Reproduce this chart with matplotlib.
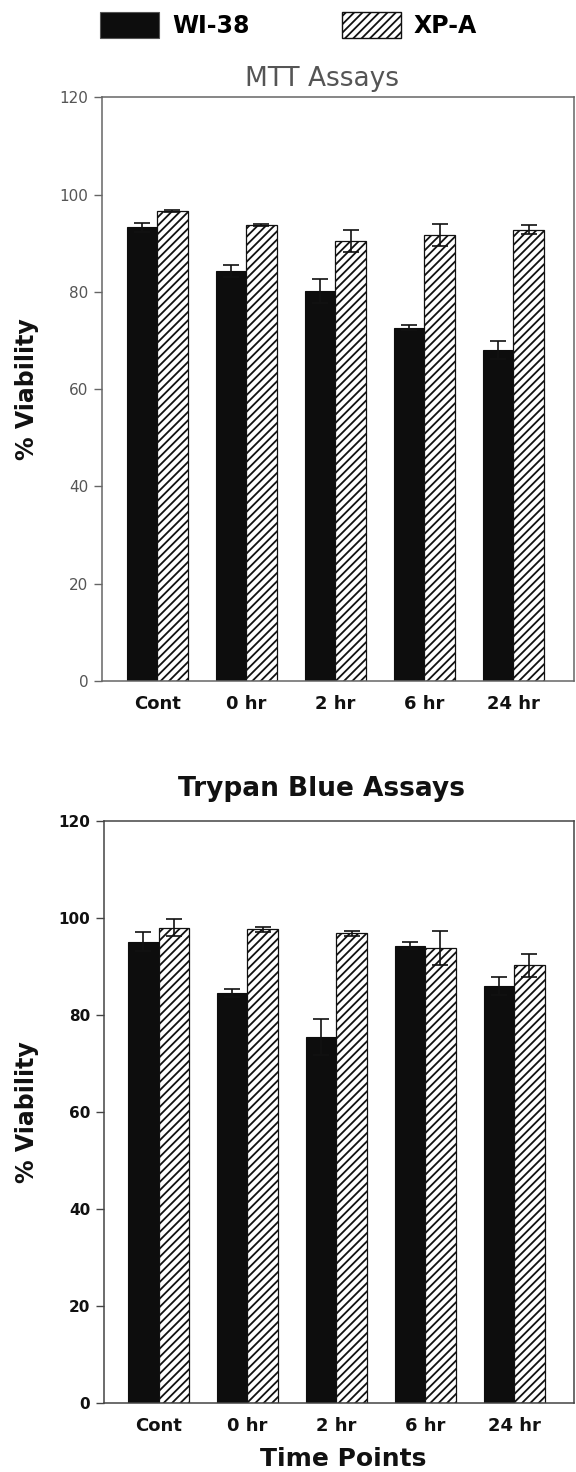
import matplotlib
matplotlib.use("Agg")
import matplotlib.pyplot as plt
import numpy as np
from matplotlib.patches import Patch

categories = ["Cont", "0 hr", "2 hr", "6 hr", "24 hr"]
series_names = ["WI-38", "XP-A"]

mtt_wi38 = [93.3, 84.3, 80.2, 72.6, 68.0]
mtt_wi38_err = [0.9, 1.3, 2.5, 0.5, 1.8]
mtt_xpa = [96.6, 93.7, 90.4, 91.7, 92.8]
mtt_xpa_err = [0.2, 0.2, 2.3, 2.2, 0.9]

tb_wi38 = [95.1, 84.5, 75.5, 94.3, 86.0]
tb_wi38_err = [2.0, 0.8, 3.7, 0.8, 1.8]
tb_xpa = [98.0, 97.7, 96.8, 93.8, 90.2]
tb_xpa_err = [1.7, 0.5, 0.6, 3.6, 2.4]

yticks = [0, 20, 40, 60, 80, 100, 120]

plt.rcParams["hatch.linewidth"] = 1.3
plt.rcParams["font.family"] = ["DejaVu Sans"]

W, H = 576, 1472
fig = plt.figure(figsize=(W / 100, H / 100), dpi=100)

ax1 = fig.add_axes([102.3 / W, 1 - 681 / H, (573.5 - 102.3) / W, (681 - 97.3) / H])
ax2 = fig.add_axes([104 / W, 1 - 1402.7 / H, (574 - 104) / W, (1402.7 - 821) / H])

bw = 0.343
x = np.arange(len(categories))


def draw(ax, a, ae, b, be, spine_col, tick_col, tick_weight):
    ax.bar(x - bw / 2, a, bw, color="#0d0d0d", edgecolor="#0d0d0d", linewidth=0.8, zorder=2)
    ax.bar(x + bw / 2, b, bw, color="white", edgecolor="#111111", hatch="////",
           linewidth=0.9, zorder=2)
    ax.errorbar(x - bw / 2, a, yerr=ae, fmt="none", ecolor="#111111", elinewidth=1.2,
                capsize=6, capthick=1.2, zorder=3)
    ax.errorbar(x + bw / 2, b, yerr=be, fmt="none", ecolor="#111111", elinewidth=1.2,
                capsize=6, capthick=1.2, zorder=3)
    ax.set_xlim(-0.615, 4.675)
    ax.set_ylim(0, 120)
    ax.set_yticks(yticks)
    ax.set_yticklabels([str(t) for t in yticks], fontsize=11, color=tick_col,
                       fontweight=tick_weight)
    ax.set_xticks(x)
    ax.set_xticklabels(categories, fontsize=13, fontweight="bold", color="#111111")
    ax.tick_params(axis="x", length=0, pad=10)
    ax.tick_params(axis="y", length=6, width=1.0, color=spine_col, pad=4, direction="out")
    for s in ax.spines.values():
        s.set_color(spine_col)
        s.set_linewidth(1.1)
    ax.set_ylabel("% Viability", fontsize=17, fontweight="bold", color="#111111",
                  labelpad=14)


draw(ax1, mtt_wi38, mtt_wi38_err, mtt_xpa, mtt_xpa_err, "#666666", "#555555", "normal")
draw(ax2, tb_wi38, tb_wi38_err, tb_xpa, tb_xpa_err, "#444444", "#111111", "bold")

ax1.yaxis.set_label_coords(-0.135, 0.5)
ax2.yaxis.set_label_coords(-0.138, 0.5)

fig.text(322 / W, 1 - 79 / H, "MTT Assays", fontsize=19, color="#555555",
         ha="center", va="center")
fig.text(322 / W, 1 - 789 / H, "Trypan Blue Assays", fontsize=19, fontweight="bold",
         color="#111111", ha="center", va="center")
fig.text(343 / W, 1 - 1459 / H, "Time Points", fontsize=18, fontweight="bold",
         color="#111111", ha="center", va="center")

handles = [
    Patch(facecolor="#0d0d0d", edgecolor="#555555", linewidth=0.8),
    Patch(facecolor="white", edgecolor="#111111", hatch="////", linewidth=1.0),
]
fig.legend(handles, series_names, loc="center", bbox_to_anchor=(288.5 / W, 1 - 25 / H),
           ncol=2, frameon=False, handlelength=2.5, handleheight=1.3,
           handletextpad=0.55, columnspacing=3.9,
           prop={"size": 17, "weight": "bold"}, borderpad=0)

fig.savefig("out.png", dpi=100)
